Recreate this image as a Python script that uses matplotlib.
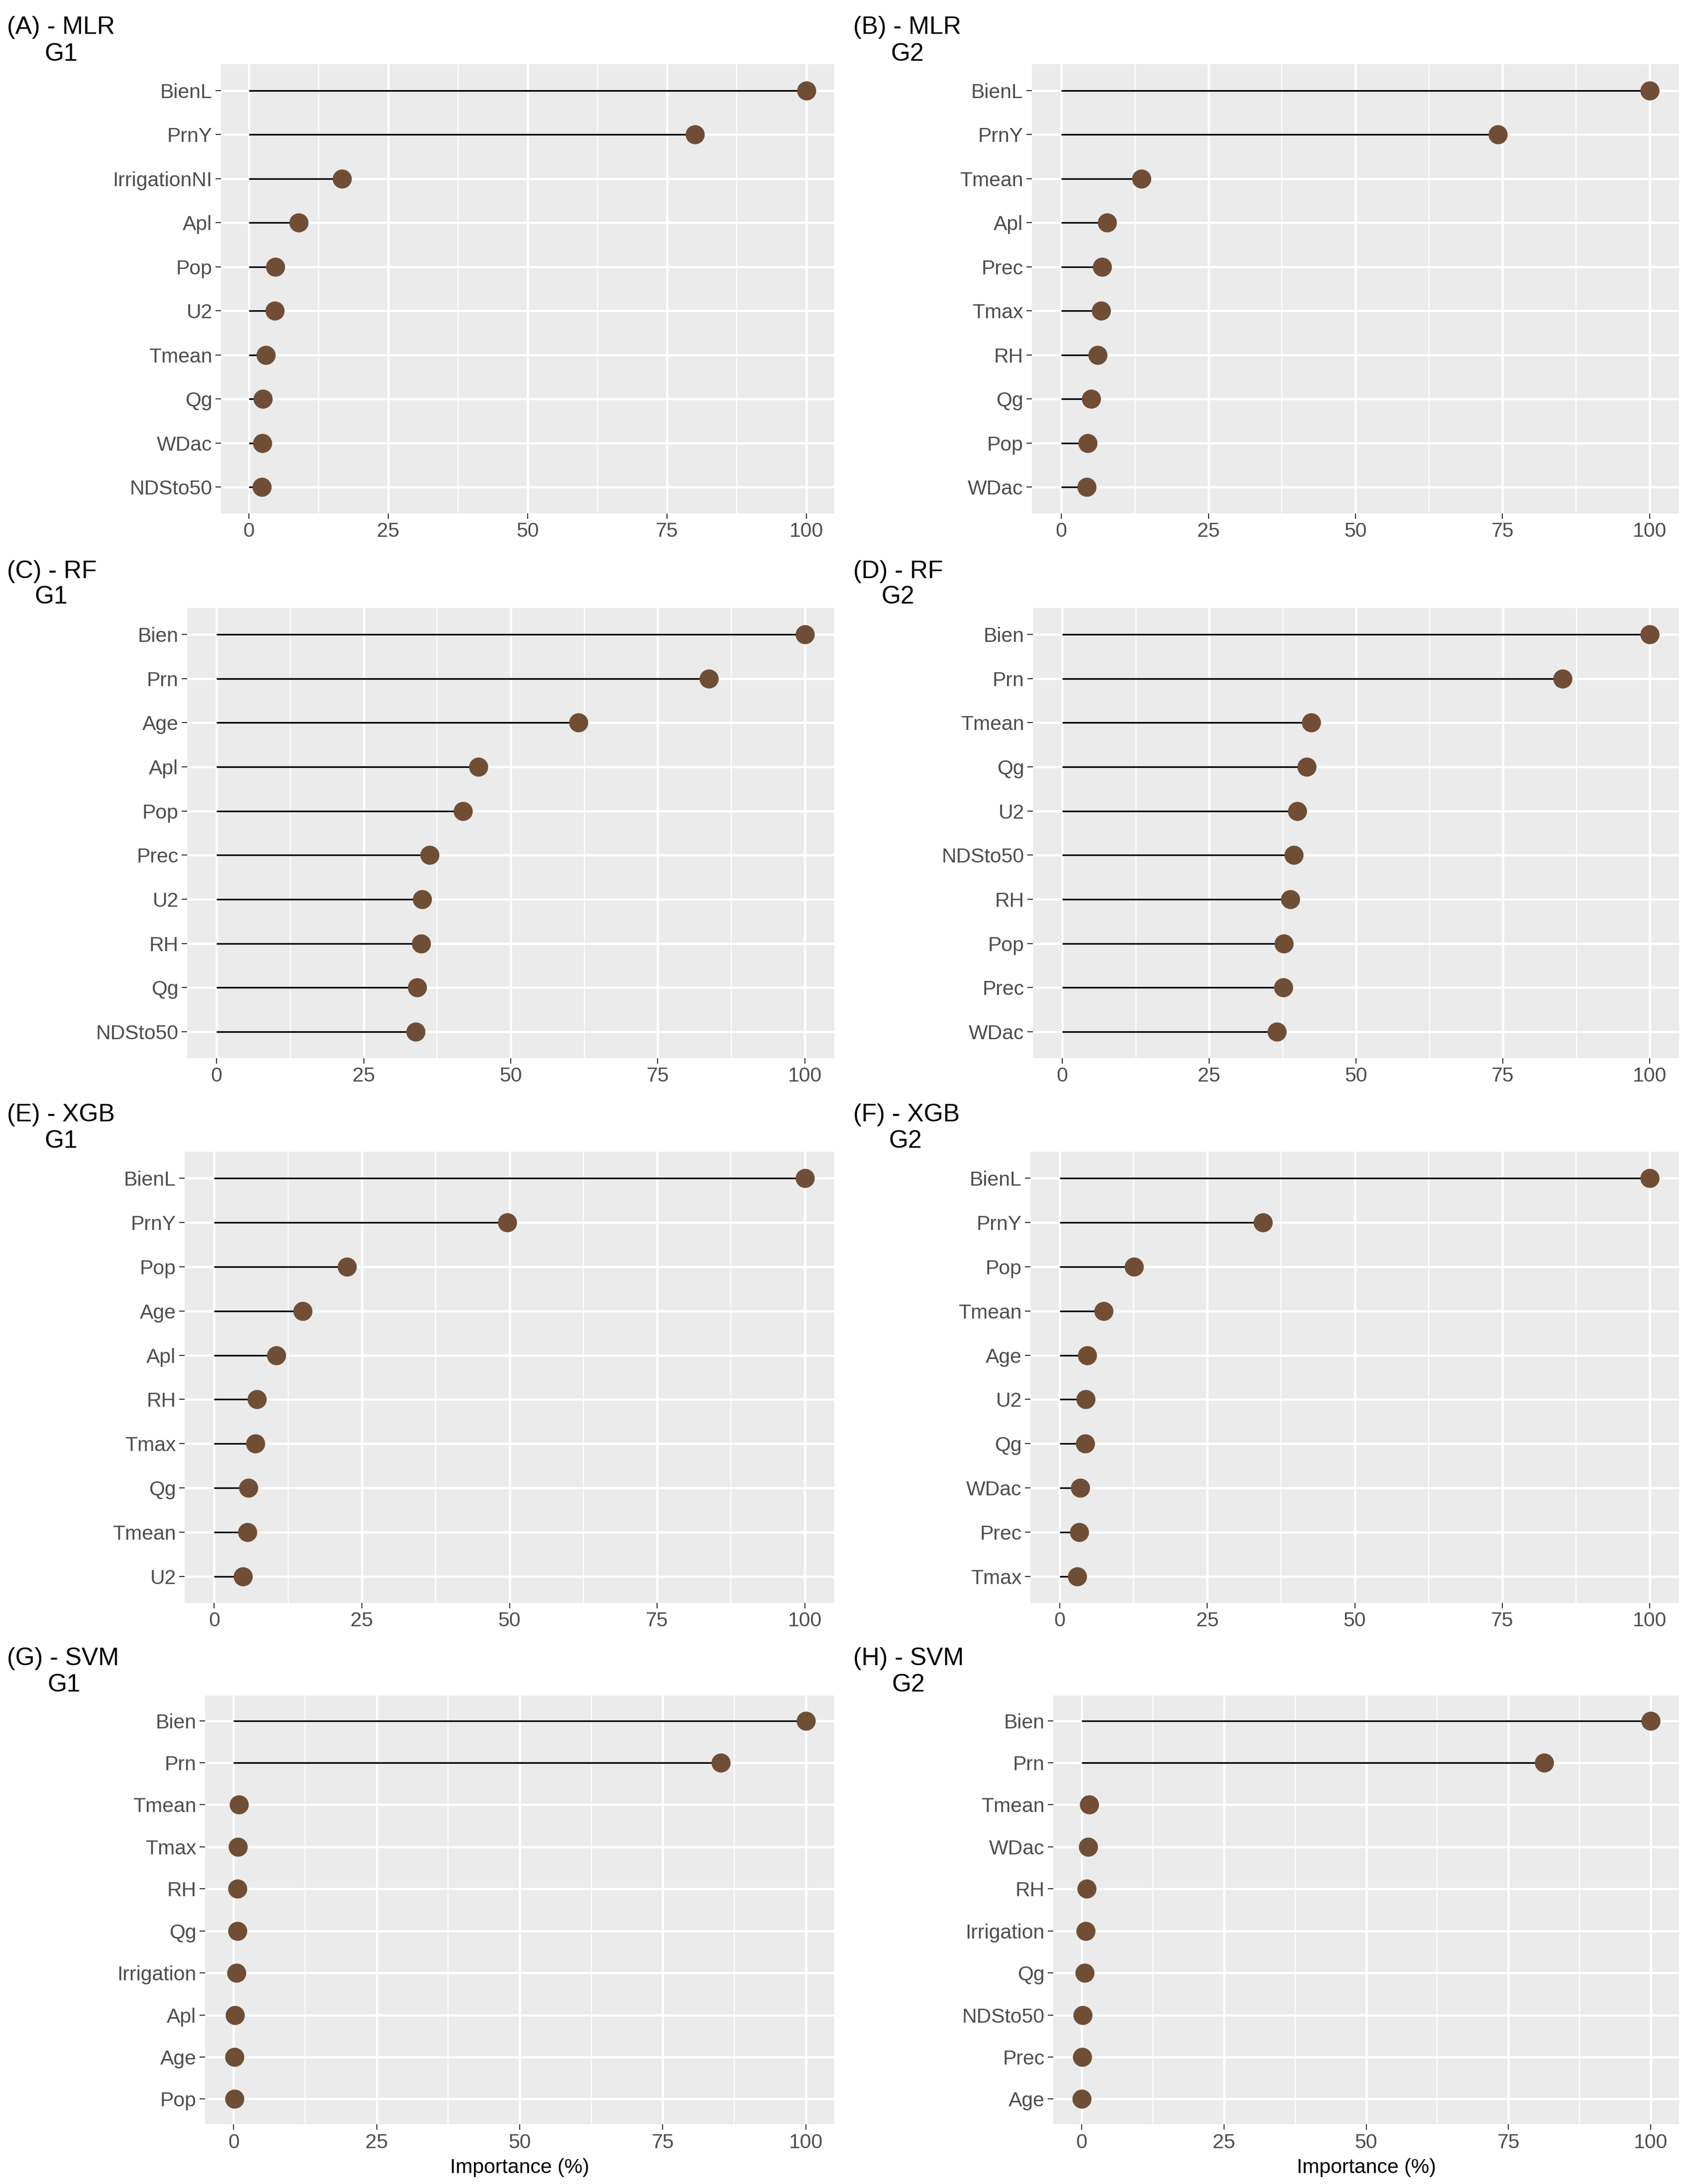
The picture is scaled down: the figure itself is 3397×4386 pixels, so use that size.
import matplotlib
matplotlib.use('Agg')
import matplotlib.pyplot as plt
from matplotlib.ticker import MultipleLocator

plt.rcParams['font.family'] = ['Liberation Sans', 'DejaVu Sans']

# variable importance (%), top to bottom
mlr_g1_vars = ['BienL', 'PrnY', 'IrrigationNI', 'Apl', 'Pop', 'U2', 'Tmean', 'Qg', 'WDac', 'NDSto50']
mlr_g1_vals = [100, 80.0, 16.7, 8.9, 4.7, 4.6, 3.0, 2.5, 2.4, 2.3]
mlr_g2_vars = ['BienL', 'PrnY', 'Tmean', 'Apl', 'Prec', 'Tmax', 'RH', 'Qg', 'Pop', 'WDac']
mlr_g2_vals = [100, 74.2, 13.6, 7.8, 6.9, 6.8, 6.2, 5.1, 4.5, 4.3]
rf_g1_vars = ['Bien', 'Prn', 'Age', 'Apl', 'Pop', 'Prec', 'U2', 'RH', 'Qg', 'NDSto50']
rf_g1_vals = [100, 83.7, 61.5, 44.5, 41.9, 36.2, 34.9, 34.8, 34.1, 33.8]
rf_g2_vars = ['Bien', 'Prn', 'Tmean', 'Qg', 'U2', 'NDSto50', 'RH', 'Pop', 'Prec', 'WDac']
rf_g2_vals = [100, 85.2, 42.4, 41.6, 40.0, 39.4, 38.8, 37.7, 37.6, 36.5]
xgb_g1_vars = ['BienL', 'PrnY', 'Pop', 'Age', 'Apl', 'RH', 'Tmax', 'Qg', 'Tmean', 'U2']
xgb_g1_vals = [100, 49.6, 22.5, 15.0, 10.5, 7.2, 7.0, 5.8, 5.6, 4.9]
xgb_g2_vars = ['BienL', 'PrnY', 'Pop', 'Tmean', 'Age', 'U2', 'Qg', 'WDac', 'Prec', 'Tmax']
xgb_g2_vals = [100, 34.4, 12.6, 7.4, 4.6, 4.4, 4.3, 3.4, 3.3, 2.9]
svm_g1_vars = ['Bien', 'Prn', 'Tmean', 'Tmax', 'RH', 'Qg', 'Irrigation', 'Apl', 'Age', 'Pop']
svm_g1_vals = [100, 85.2, 0.9, 0.75, 0.7, 0.65, 0.5, 0.2, 0.15, 0.1]
svm_g2_vars = ['Bien', 'Prn', 'Tmean', 'WDac', 'RH', 'Irrigation', 'Qg', 'NDSto50', 'Prec', 'Age']
svm_g2_vals = [100, 81.3, 1.3, 1.1, 0.85, 0.7, 0.5, 0.2, 0.05, 0.0]

titles = ['(A) - MLR', '(B) - MLR', '(C) - RF', '(D) - RF',
          '(E) - XGB', '(F) - XGB', '(G) - SVM', '(H) - SVM']
groups = ['G1', 'G2'] * 4
x_ticks = [0, 25, 50, 75, 100]
x_label = 'Importance (%)'

panels = [(mlr_g1_vars, mlr_g1_vals), (mlr_g2_vars, mlr_g2_vals),
          (rf_g1_vars, rf_g1_vals), (rf_g2_vars, rf_g2_vals),
          (xgb_g1_vars, xgb_g1_vals), (xgb_g2_vars, xgb_g2_vals),
          (svm_g1_vars, svm_g1_vals), (svm_g2_vars, svm_g2_vals)]

# layout in pixels: panel left, right, top, bottom; title x/y, subtitle x/y
W, H = 3397, 4386
boxes = [(444, 1676, 129, 1031), (2073, 3373, 129, 1031),
         (376, 1676, 1221, 2125), (2075, 3373, 1221, 2125),
         (371, 1676, 2313, 3219), (2070, 3373, 2313, 3219),
         (412, 1676, 3405, 4266), (2116, 3373, 3405, 4266)]
title_pos = [(14, 55, 89, 109), (1714, 55, 1789, 109),
             (14, 1148, 70, 1199), (1714, 1148, 1770, 1199),
             (14, 2239, 89, 2292), (1714, 2239, 1786, 2292),
             (14, 3331, 95, 3384), (1714, 3331, 1791, 3384)]

point_col = '#704E36'
fig = plt.figure(figsize=(W / 300, H / 300), dpi=300)

for i, (vars_, vals) in enumerate(panels):
    l, r, t, b = boxes[i]
    ax = fig.add_axes([l / W, 1 - b / H, (r - l) / W, (b - t) / H])
    ax.set_facecolor('#EBEBEB')
    n = len(vars_)
    ys = [n - k for k in range(n)]
    ax.hlines(ys, 0, vals, color='black', lw=0.8, zorder=3)
    ax.plot(vals, ys, 'o', ms=8.2, color=point_col, mec=point_col, zorder=4)
    ax.set_xlim(-5, 105)
    ax.set_ylim(0.4, n + 0.6)
    ax.set_yticks(ys)
    ax.set_yticklabels(vars_)
    ax.set_xticks(x_ticks)
    ax.xaxis.set_minor_locator(MultipleLocator(12.5))
    ax.grid(which='major', color='white', lw=1.1, zorder=0)
    ax.grid(which='minor', axis='x', color='white', lw=0.55, zorder=0)
    ax.set_axisbelow(True)
    for s in ax.spines.values():
        s.set_visible(False)
    ax.tick_params(which='major', length=2.6, width=0.5, color='#333333',
                   labelcolor='#4D4D4D', labelsize=9.8, pad=1.6)
    ax.tick_params(which='minor', length=0)
    if i >= 6:
        ax.set_xlabel(x_label, fontsize=9.8, color='black', labelpad=3)
    tx, ty, gx, gy = title_pos[i]
    fig.text(tx / W, 1 - ty / H, titles[i], fontsize=12, va='center', ha='left')
    fig.text(gx / W, 1 - gy / H, groups[i], fontsize=12, va='center', ha='left')

fig.savefig('out.png', dpi=300, facecolor='white')
